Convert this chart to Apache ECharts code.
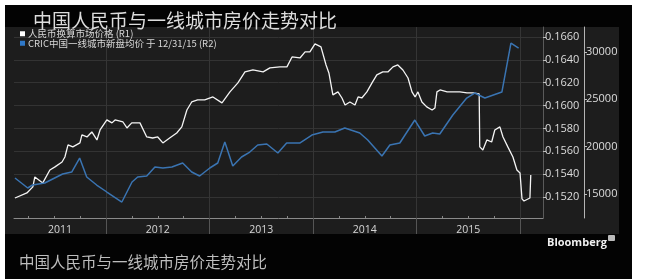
<!DOCTYPE html>
<html><head><meta charset="utf-8">
<script src="https://cdn.jsdelivr.net/npm/echarts@6/dist/echarts.min.js"></script>
<style>html,body{margin:0;padding:0;background:#fff;}#c{width:649px;height:279px;}</style>
</head><body><div id="c"></div>
<script>
// ---- data ----
const titleText = '中国人民币与一线城市房价走势对比';
const seriesNames = ['人民币换算市场价格 (R1)', 'CRIC中国一线城市新盘均价 于 12/31/15 (R2)'];
const yearLabels = [2011, 2012, 2013, 2014, 2015];
const yearBounds = [2012, 2013, 2014, 2015, 2016];
const r1Ticks = [0.1520, 0.1540, 0.1560, 0.1580, 0.1600, 0.1620, 0.1640, 0.1660];
const r2Ticks = [15000, 20000, 25000, 30000];

const cnyDates = ['2011-02-14','2011-03-28','2011-04-18','2011-04-25','2011-05-23','2011-06-17','2011-07-05','2011-07-30','2011-08-09','2011-08-20','2011-09-06','2011-10-01','2011-10-08','2011-10-26','2011-11-12','2011-11-30','2011-12-11',
'2012-01-04','2012-01-22','2012-02-02','2012-03-01','2012-03-15','2012-04-01','2012-04-30','2012-05-24','2012-06-14','2012-07-02','2012-07-20','2012-08-13','2012-09-07','2012-09-25','2012-10-13','2012-10-30','2012-11-20','2012-12-15',
'2013-01-13','2013-02-14','2013-03-14','2013-04-11','2013-05-06','2013-06-03','2013-07-09','2013-08-02','2013-09-06','2013-10-01','2013-10-19','2013-11-16','2013-12-04','2013-12-21',
'2014-01-08','2014-01-29','2014-02-16','2014-02-26','2014-03-12','2014-03-30','2014-04-13','2014-04-24','2014-05-11','2014-05-29','2014-06-09','2014-06-22','2014-07-10','2014-07-28','2014-08-14','2014-09-04','2014-09-22','2014-10-10','2014-10-27','2014-11-14','2014-12-02','2014-12-16','2014-12-27',
'2015-01-06','2015-01-20','2015-02-06','2015-02-25','2015-03-07','2015-03-14','2015-03-25','2015-04-19','2015-05-10','2015-06-03','2015-06-28','2015-07-19','2015-08-10','2015-08-12','2015-08-23','2015-09-06','2015-09-23','2015-10-04','2015-10-22','2015-11-02','2015-11-19','2015-12-07','2015-12-21',
'2016-01-01','2016-01-08','2016-01-15','2016-02-05','2016-02-08'];
const cnyValues = [0.15191,0.15235,0.15288,0.15375,0.15323,0.15436,0.15463,0.15506,0.15550,0.15655,0.15638,0.15673,0.15743,0.15725,0.15769,0.15699,0.15786,
0.15874,0.15848,0.15874,0.15856,0.15804,0.15848,0.15848,0.15725,0.15716,0.15725,0.15673,0.15716,0.15760,0.15813,0.15961,0.16031,0.16049,0.16049,
0.16075,0.16023,0.16119,0.16198,0.16294,0.16311,0.16294,0.16329,0.16338,0.16338,0.16425,0.16416,0.16469,0.16469,
0.16539,0.16513,0.16355,0.16285,0.16093,0.16119,0.16066,0.16005,0.16031,0.16005,0.16075,0.16066,0.16119,0.16198,0.16268,0.16294,0.16294,0.16338,0.16355,0.16311,0.16241,0.16119,0.16075,
0.16119,0.16031,0.15988,0.15961,0.15979,0.16119,0.16136,0.16119,0.16119,0.16119,0.16110,0.16110,0.16101,0.15638,0.15611,0.15699,0.15681,0.15786,0.15813,0.15725,0.15638,0.15550,0.15436,
0.15410,0.15183,0.15165,0.15191,0.15393];

const cricDates = ['2011-02-14','2011-03-31','2011-04-17','2011-05-30','2011-07-11','2011-08-01','2011-09-02','2011-09-30','2011-10-25','2011-11-29',
'2012-01-04','2012-02-26','2012-04-02','2012-04-22','2012-05-24','2012-06-22','2012-07-20','2012-08-21','2012-09-28','2012-10-30','2012-11-27',
'2013-01-02','2013-01-30','2013-02-24','2013-03-24','2013-04-24','2013-05-23','2013-06-20','2013-07-22','2013-08-30','2013-09-30','2013-11-15','2013-12-28',
'2014-02-05','2014-03-19','2014-04-23','2014-06-15','2014-07-13','2014-09-01','2014-09-29','2014-11-03','2014-12-26',
'2015-01-30','2015-02-27','2015-03-24','2015-05-09','2015-06-27','2015-07-25','2015-08-30','2015-10-29','2015-11-30','2015-12-27'];
const cricValues = [16690,15634,15950,16162,16795,17112,17323,18802,16795,15950,
15211,14155,16267,16795,16901,17851,17746,17851,18274,17323,16901,
17746,18274,20491,17957,18907,19435,20174,20280,19330,20386,20386,21230,
21547,21547,21970,21442,20702,19013,20174,20386,22814,
21125,21442,21336,23342,25138,25666,25138,25771,30946,30418];

// ---- helpers ----
function toYear(s){const p=s.split('-').map(Number);const a=Date.UTC(p[0],0,1),b=Date.UTC(p[0]+1,0,1);return p[0]+(Date.UTC(p[0],p[1]-1,p[2])-a)/(b-a);}
const xMin = 2011.111, xMax = 2016.222;
const labelPos = yearLabels.map(y => (Math.max(y, xMin) + Math.min(y + 1, xMax)) / 2);
const quarterTicks = [];
for (let y = 2011; y <= 2016; y++) for (let q = 0; q < 4; q++) { const v = y + q / 4; if (v > xMin && v < xMax && q !== 0) quarterTicks.push(v); }

const chart = echarts.init(document.getElementById('c'), null, {renderer: 'canvas'});
const font = "'Open Sans', sans-serif";
chart.setOption({
  backgroundColor: '#ffffff',
  animation: false,
  graphic: [
    {type: 'rect', z: -10, shape: {x: 5, y: 5, width: 627, height: 274}, style: {fill: '#030303'}},
    {type: 'rect', z: -9, shape: {x: 5, y: 27, width: 614, height: 207}, style: {fill: '#1d1d1d'}},
    {type: 'rect', z: 5, shape: {x: 608, y: 235, width: 7, height: 6, r: 1}, style: {fill: '#bbbbbb'}}
  ],
  title: [
    {text: titleText, left: 28, top: 6, textStyle: {fontSize: 19, fontWeight: 'normal', color: '#dcdcdc', fontFamily: "'Noto Sans CJK SC'"}},
    {text: titleText, left: 14, top: 249, textStyle: {fontSize: 15.5, fontWeight: 'normal', color: '#bdbdbd', fontFamily: "'Noto Sans CJK SC'"}},
    {text: 'Bloomberg', left: 542, top: 232, textStyle: {fontSize: 11, fontWeight: 'bold', color: '#f0f0f0', fontFamily: font}}
  ],
  legend: {
    left: 20, top: 29, padding: 0, orient: 'vertical', itemGap: 0, itemWidth: 5, itemHeight: 5, icon: 'rect',
    textStyle: {color: '#d8d8d8', fontSize: 9.5, lineHeight: 8, fontFamily: "'Noto Sans CJK SC'", padding: [0, 0, 0, -2]},
    data: seriesNames
  },
  grid: {left: 14, top: 27, right: 106, bottom: 61, containLabel: false},
  xAxis: [
    {type: 'value', min: xMin, max: xMax,
      axisLine: {show: true, lineStyle: {color: '#8a8a8a', width: 1}},
      axisTick: {show: true, customValues: yearBounds, length: 16, lineStyle: {color: '#555'}},
      axisLabel: {customValues: labelPos, formatter: v => String(Math.floor(v)), color: '#d6d6d6', fontSize: 10.5, fontFamily: font, margin: 7},
      splitLine: {show: true, lineStyle: {color: '#353535', width: 1}}},
    {type: 'value', min: xMin, max: xMax, position: 'bottom',
      axisLine: {show: false}, axisLabel: {show: false}, splitLine: {show: false},
      axisTick: {show: true, customValues: quarterTicks, inside: true, length: 2, lineStyle: {color: '#888'}}}
  ],
  yAxis: [
    {type: 'value', position: 'right', min: 0.15016, max: 0.16687, offset: 0,
      axisLine: {show: true, lineStyle: {color: '#5a5a5a'}},
      axisTick: {show: true, customValues: r1Ticks, length: 3, lineStyle: {color: '#bbb'}},
      axisLabel: {customValues: r1Ticks, formatter: v => v.toFixed(4), color: '#dcdcdc', fontSize: 11, fontFamily: font, margin: 2},
      splitLine: {show: true, lineStyle: {color: '#333333', width: 1}}},
    {type: 'value', position: 'right', min: 12465, max: 32641, offset: 41,
      axisLine: {show: true, lineStyle: {color: '#b5b5b5'}},
      axisTick: {show: true, customValues: r2Ticks, length: 3, lineStyle: {color: '#bbb'}},
      axisLabel: {customValues: r2Ticks, formatter: v => String(Math.round(v)), color: '#dcdcdc', fontSize: 11, fontFamily: font, margin: 2},
      splitLine: {show: false}}
  ],
  series: [
    {name: seriesNames[0], type: 'line', xAxisIndex: 0, yAxisIndex: 0, showSymbol: false, color: '#ffffff',
      lineStyle: {color: '#f4f4f4', width: 1.3}, data: cnyDates.map((d, i) => [toYear(d), cnyValues[i]])},
    {name: seriesNames[1], type: 'line', xAxisIndex: 0, yAxisIndex: 1, showSymbol: false, color: '#2f78c8',
      lineStyle: {color: '#3a74b2', width: 1.5}, data: cricDates.map((d, i) => [toYear(d), cricValues[i]])}
  ]
});
</script></body></html>
